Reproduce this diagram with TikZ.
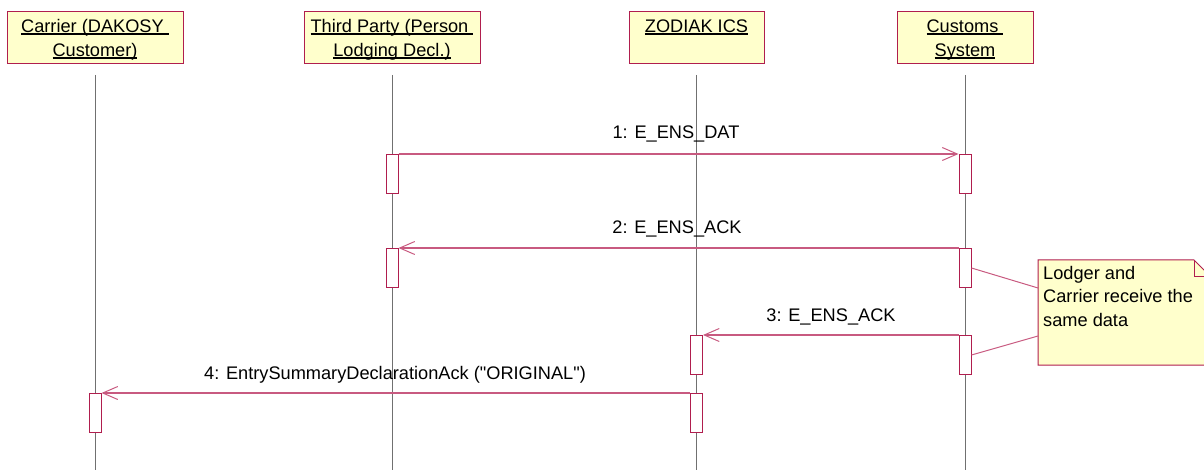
\documentclass[tikz,border=0pt]{standalone}
\usepackage{fontspec}
\setmainfont{Liberation Sans}[Ligatures=TeXOff]
\usetikzlibrary{arrows.meta}
\definecolor{frame}{HTML}{B01E4E}
\definecolor{msg}{HTML}{C85A80}
\definecolor{paper}{HTML}{FFFFCC}
\definecolor{life}{HTML}{707070}
\newcommand\myul[1]{\setbox0\hbox{#1}\rlap{\rule[-1.6pt]{\wd0}{1.1pt}}\box0}
\begin{document}
\begin{tikzpicture}[x=1pt,y=-1pt,
  header/.style={draw=frame, fill=paper, line width=1pt, minimum height=52pt, inner sep=0pt},
  htext/.style={font=\fontsize{18.2}{21}\selectfont, anchor=base, inner sep=0pt},
  act/.style={draw=frame, fill=white, line width=1pt, minimum width=12pt, minimum height=39pt, inner sep=0pt, anchor=north},
  lifeline/.style={draw=life, line width=1pt},
  msgline/.style={draw=msg, line width=1.2pt, -{Straight Barb[length=15pt,width=13pt,line width=1pt]}},
  mlabel/.style={font=\fontsize{18.2}{21}\selectfont, anchor=base, inner sep=0pt},
  notebox/.style={draw=frame, fill=paper, line width=1pt},
  notetext/.style={font=\fontsize{18.2}{23.5}\selectfont, align=left, anchor=north west, inner sep=0pt},
  notelink/.style={draw=msg, line width=1pt}]
\useasboundingbox (0,0) rectangle (1204,470);

% headers
\node[header, minimum width=176pt] (hC) at (95,38) {};
\node[htext] (tC1) at (95,33) {\myul{Carrier (DAKOSY\ }};
\node[htext] (tC2) at (95,57) {\myul{Customer)}};
\node[header, minimum width=176pt] (hT) at (392,38) {};
\node[htext] (tT1) at (392,33) {\myul{Third Party (Person\ }};
\node[htext] (tT2) at (392,57) {\myul{Lodging Decl.)}};
\node[header, minimum width=135pt] (hZ) at (696.5,38) {};
\node[htext] (tZ1) at (696.5,33) {\myul{ZODIAK ICS}};
\node[header, minimum width=136pt] (hS) at (965,38) {};
\node[htext] (tS1) at (965,33) {\myul{Customs\ }};
\node[htext] (tS2) at (965,57) {\myul{System}};

% lifelines
\coordinate (eC) at (95.5,470);
\coordinate (eT) at (392.5,470);
\coordinate (eZ) at (696.5,470);
\coordinate (eS) at (965.5,470);
\draw[lifeline] (95.5,75) -- (eC);
\draw[lifeline] (392.5,75) -- (eT);
\draw[lifeline] (696.5,75) -- (eZ);
\draw[lifeline] (965.5,75) -- (eS);

% activations
\node[act] (a1) at (392,154) {};
\node[act] (a2) at (392,248) {};
\node[act] (c1) at (965,154) {};
\node[act] (c2) at (965,248) {};
\node[act] (c3) at (965,335) {};
\node[act] (z1) at (696.5,335) {};
\node[act] (z2) at (696.5,393) {};
\node[act] (k1) at (95,393) {};

% messages
\draw[msgline] (a1.north east) -- (c1.north west);
\node[mlabel] (m1) at (676,139) {1: E\_ENS\_DAT};
\draw[msgline] (c2.north west) -- (a2.north east);
\node[mlabel] (m2) at (677,234) {2: E\_ENS\_ACK};
\draw[msgline] (c3.north west) -- (z1.north east);
\node[mlabel] (m3) at (831,321) {3: E\_ENS\_ACK};
\draw[msgline] (z2.north west) -- (k1.north east);
\node[mlabel] (m4) at (395,379) {4: EntrySummaryDeclarationAck ("ORIGINAL")};

% note
\path[notebox] (1038,260) -- (1194,260) -- (1212,278) -- (1212,365) -- (1038,365) -- cycle;
\draw[draw=frame, line width=1pt] (1194,260) -- (1194,277) -- (1211,277);
\node[notetext] (note) at (1043,266) {Lodger and\\Carrier receive the\\same data};
\coordinate (n1) at (1038,288);
\coordinate (n2) at (1038,336);
\draw[notelink] (c2.east) -- (n1);
\draw[notelink] (c3.east) -- (n2);
\end{tikzpicture}
\end{document}
